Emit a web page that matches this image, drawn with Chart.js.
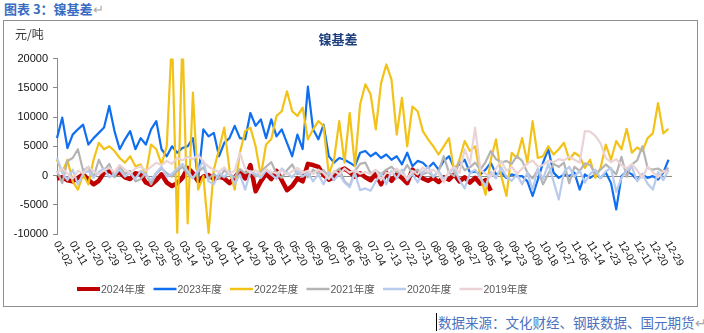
<!DOCTYPE html>
<html>
<head>
<meta charset="utf-8">
<script src="https://cdn.jsdelivr.net/npm/chart.js@4.4.1/dist/chart.umd.min.js"></script>
<style>
  body { margin: 0; width: 704px; height: 333px; position: relative; background: #fff; overflow: hidden;
         font-family: "Noto Sans CJK SC", sans-serif; }
  #cap { position: absolute; left: 4px; top: 0px; font-size: 13px; font-weight: bold; color: #3b6cc4; line-height: 18px; }
  #cap span { color: #aaa; font-weight: normal; }
  #box { position: absolute; left: 3px; top: 20px; width: 693px; height: 285px; border: 1px solid #8f8f8f; }
  #src { position: absolute; left: 436px; top: 313px; font-size: 13.5px; line-height: 18px; color: #4a72c0;
         border-left: 1px solid #000; padding-left: 1px; white-space: nowrap; }
</style>
</head>
<body>
<div id="cap">图表 3：镍基差<span>↵</span></div>
<div id="box"><canvas id="basisChart" width="693" height="285"></canvas></div>
<div id="src">数据来源：文化财经、钢联数据、国元期货<span style="color:#aaa">↵</span></div>
<script>
"use strict";

// calendar of the chart (leap year), holidays have no row
const FIRST_DAY = "2024-01-02";
const LAST_DAY = "2024-12-31";
const HOLIDAYS = ["04-04", "05-01", "05-02", "05-03",
  "10-01", "10-02", "10-03", "10-04", "10-05", "10-06", "10-07"];

const TICK_LABELS = ["01-02", "01-11", "01-20", "01-29", "02-07", "02-16", "02-25", "03-05", "03-14", "03-23",
  "04-01", "04-11", "04-20", "04-29", "05-11", "05-20", "05-29", "06-07", "06-16", "06-25",
  "07-04", "07-13", "07-22", "07-31", "08-09", "08-18", "08-27", "09-05", "09-14", "09-23",
  "10-09", "10-18", "10-27", "11-05", "11-14", "11-23", "12-02", "12-11", "12-20", "12-29"];

// one value every 3rd row of the calendar
const STEP = 3;

const S2024 = [-500, -300, -800, -1000, -400, 200, -700, -1500, -900, 500,
  800, 200, 500, -300, -600, 400, 200, -1200, -1600, -800,
  200, -1200, -1800, -1300, -400, 1300, 400, -1000, -200, 100,
  -600, -200, -500, -1300, -300, 700, -500, 1800, -2700, -1000,
  300, -600, 800, -800, -2500, -1800, -500, -1000, 2000, 1800,
  1500, 100, -700, -300, 800, 1200, 600, -200, 400, -300,
  -800, 300, -1500, 500, -900, 200, -400, -1300, 1000, 100,
  -500, -900, -400, -1100, -300, -700, 200, -1000, -300, -1200,
  -400, -1400, -800, -2600];

const S2023 = [6400, 9900, 4700, 7000, 7900, 8700, 5300, 6400, 7300, 8200,
  11900, 7600, 4500, 6200, 7600, 4500, 6400, 5300, 7900, 9300,
  4500, 3300, 5000, 3900, 4700, 5000, 6400, -700, 7900, 6700,
  7300, 3300, 5600, 6400, 8500, 6400, 6200, 10700, 8500, 9600,
  6400, 9600, 6700, 7900, 5600, 3300, 7000, 4500, 15200, 7900,
  6200, 8700, 3300, 2200, 3000, 2700, 2200, 1600, 3900,
  4200, 3300, 3900, 3000, 3600, 2700, 3300, 1900, 3900, 1600,
  2500, 2200, 1300, 2200, 1000, 2500, 3300, 1300, 1900, 2700,
  500, 700, 200, 1000, 2200, 200, 500, -400, 200, -100,
  -100, -1000, -3500, -700, 2200, 4500, 500, -400, 200, -100,
  500, -2400, 200, -400, 200, -400, 500, -1300, -5800, -100,
  700, 200, -700, 200, -400, -100, -700, 500, 2700];

const S2022 = [2700, 500, 2700, -1000, -2400, 200, -1500, 2700, 5600, 4500,
  5000, 4200, 3000, 2200, 3300, 1600, 1900, 200, 5300, 4500,
  1900, 5000, 24000, -9800, 24000, -8200, 14200, -2400, -100, -9800,
  1000, 4500, 8200, 1000, -2400, 3900, 7600, 8200, 5000, -100,
  5300, 6200, 10200, 11000, 14400, 11000, 10200, 11600, 6200, 7900,
  9300, 8500, 200, 2700, 9300, 2200, 10700, 1600, 12200,
  15600, 13900, 7900, 15800, 19000, 16400, 7000, 13300, 5000, 11800,
  11000, 7600, 6200, 5000, 3600, 5000, 6400, 500, 2700, 5900,
  4200, 5000, -100, -3300, 2700, 6200, -100, -3500, 3900, 3000,
  6400, 2200, 9300, 3000, 3300, 5000, 3600, 4500, 5600, 2700,
  3900, 3300, 1300, 2700, -400, 1300, 5300, 2700, 5900, 4500,
  8000, 3900, 4800, 4200, 6400, 7200, 12400, 7200, 8000];

const S2021 = [800, -1300, 2500, 3000, 4500, 800, 1500, -300, 2700, 800,
  2000, -300, 1600, 300, 800, -1000, -600, 400, -1500, 300,
  1200, 400, -200, 800, 1500, 300, -400, 600, 1400, -600,
  300, -500, 900, 200, -300, 1100, 400, 800, -200, 600,
  1500, 2300, 300, -400, 900, 1900, 200, 700, -300, 1000,
  300, 900, -200, 500, 1200, -1000, -1800, 800, 2000,
  2200, 400, 900, 200, 1000, 1500, 600, 300, 1800, 400,
  1000, 200, 600, -200, 700, 3300, 500, -100, 2400, 900,
  1400, 2200, 1000, 2300, 4200, 2800, 2200, 2500, 2000, 3300,
  2500, 500, -500, 1000, -1500, 300, 2000, 1500, 2200, -1300,
  1500, 800, 2100, 1800, 300, 1000, 1900, 1100, 200, 3200,
  -200, 1900, 2600, 5000, 1300, 1000, 1200, 600, 1300];

const S2020 = [3000, 500, -800, 1000, -1500, 300, 800, -400, 600, 1200,
  -300, 200, 1000, -200, 400, -600, 800, 100, -800, 500,
  1500, -200, 300, 1200, 2000, 800, -500, 1000, 2500, -1000,
  -1500, 400, -300, 800, -1500, 200, -2400, 600, 300, -400,
  900, 200, -600, 1200, 400, -300, 800, -200, 500, -1000,
  200, -1500, 600, -800, 300, -1200, -2000, 400, -2500,
  -2200, -2600, -1000, 400, -1500, 800, -500, 1000, -800, 300,
  -1200, 600, 1500, -300, 800, -600, 500, 1200, -800, -2200,
  400, 1000, -400, -1800, 600, -500, 1400, -200, -900, 200,
  -1500, 500, -2500, 1200, -600, 2000, -1000, -4100, 600, 1500,
  -200, 800, -1200, 300, 1000, -500, 700, 1300, -2800, -400,
  900, 1500, -1000, 300, -1400, -2400, 600, -800, 1000];

const S2019 = [500, 1200, 300, -500, 800, 400, 1500, 700, 200, 900,
  1300, 600, 1800, 1000, 400, 1200, 1600, 800, 1500, 2200,
  1800, 2500, 2000, 3000, 2600, 3200, 2800, 3500, 2400, 1500,
  1000, 600, 1400, 300, 800, 3900, 1200, 500, 900, 200,
  1100, 600, 400, 900, 200, 700, 1300, 500, 800, 300,
  1000, 400, -600, 800, 200, 1200, 500, 900, 300,
  600, 200, 1000, -800, 500, 300, 1200, 400, -500, 800,
  200, 1400, 600, 1000, 300, -1200, 700, 1500, 400, 4500,
  2000, 8200, 1000, 300, -200, 1200, 2500, 800, 1500, 300,
  1200, 2000, 2600, 1500, 1800, 2500, 2300, 2800, 2600, 3200,
  2700, 2200, 7600, 7500, 6800, 5500, 3000, 2300, 2800, 1800,
  1200, 2000, 900, -400, 1500, 600, -300, 800, 500];

const SERIES_NAMES = ["2024年度", "2023年度", "2022年度", "2021年度", "2020年度", "2019年度"];
const SERIES_COLORS = ["#c00000", "#0f6ff0", "#f2c218", "#b4b4b4", "#b8cbec", "#ead3d5"];
const SERIES_WIDTHS = [4.5, 2.2, 2.2, 2.2, 2.2, 2.2];

function buildCategories() {
  const out = [];
  const d = new Date(FIRST_DAY + "T00:00:00Z");
  const end = new Date(LAST_DAY + "T00:00:00Z");
  while (d <= end) {
    const s = String(d.getUTCMonth() + 1).padStart(2, "0") + "-" + String(d.getUTCDate()).padStart(2, "0");
    if (!HOLIDAYS.includes(s)) out.push(s);
    d.setUTCDate(d.getUTCDate() + 1);
  }
  return out;
}

const CATEGORIES = buildCategories();

function toPoints(values) {
  return values.map((v, k) => ({ x: CATEGORIES[k * STEP], y: v }));
}

const extras = {
  id: "extras",
  beforeDatasetsDraw(chart) {
    const { ctx, chartArea } = chart;
    const y0 = chart.scales.y.getPixelForValue(0);
    ctx.save();
    ctx.strokeStyle = "#8a8a8a";
    ctx.lineWidth = 1;
    ctx.beginPath();
    ctx.moveTo(chartArea.left, Math.round(y0) + 0.5);
    ctx.lineTo(chartArea.right, Math.round(y0) + 0.5);
    ctx.stroke();
    ctx.restore();
  },
  afterDraw(chart) {
    const { ctx, chartArea } = chart;
    const xs = chart.scales.x;
    ctx.save();

    // unit
    ctx.fillStyle = "#333";
    ctx.font = '12px "Noto Sans CJK SC"';
    ctx.textBaseline = "middle";
    ctx.textAlign = "left";
    ctx.fillText("元/吨", 11, 13);

    // slanted date labels
    ctx.font = '10.5px "Liberation Sans", Arial';
    ctx.fillStyle = "#111";
    TICK_LABELS.forEach(lbl => {
      const idx = CATEGORIES.indexOf(lbl);
      if (idx < 0) return;
      const x = xs.getPixelForValue(idx);
      ctx.save();
      ctx.translate(x - 1, chartArea.bottom + 8);
      ctx.rotate(Math.PI / 3);
      ctx.fillText(lbl, 0, 0);
      ctx.restore();
    });

    // legend
    ctx.font = '10.5px "Liberation Sans", "Noto Sans CJK SC"';
    ctx.fillStyle = "#595959";
    const ly = 268;
    chart.data.datasets.forEach((ds, i) => {
      const lx = 73 + i * 76.5;
      ctx.strokeStyle = ds.borderColor;
      ctx.lineWidth = i === 0 ? 4 : 2.5;
      ctx.beginPath();
      ctx.moveTo(lx, ly);
      ctx.lineTo(lx + 23, ly);
      ctx.stroke();
      ctx.fillText(ds.label, lx + 24, ly + 1);
    });
    ctx.restore();
  }
};

document.addEventListener("DOMContentLoaded", function () {
  const allSeries = [S2024, S2023, S2022, S2021, S2020, S2019];
  const datasets = allSeries.map((vals, i) => ({
    label: SERIES_NAMES[i],
    data: toPoints(vals),
    borderColor: SERIES_COLORS[i],
    backgroundColor: SERIES_COLORS[i],
    borderWidth: SERIES_WIDTHS[i],
    pointRadius: 0,
    tension: 0,
    borderJoinStyle: "round",
    order: allSeries.length - 1 - i
  }));

  new Chart(document.getElementById("basisChart"), {
    type: "line",
    data: { labels: CATEGORIES, datasets: datasets },
    options: {
      responsive: false,
      animation: false,
      layout: { padding: { left: 0, right: 25, top: 0, bottom: 0 } },
      plugins: {
        legend: { display: false },
        tooltip: { enabled: false },
        title: {
          display: true,
          text: "镍基差",
          color: "#1f3f7f",
          font: { family: "Noto Sans CJK SC", size: 13, weight: "bold" },
          padding: { top: 10, bottom: 12 }
        }
      },
      scales: {
        x: {
          type: "category",
          offset: false,
          grid: { display: false },
          border: { display: false },
          ticks: { display: false },
          afterFit(scale) { scale.height = 72; }
        },
        y: {
          min: -10000,
          max: 20000,
          grid: { drawOnChartArea: false, drawTicks: true, tickLength: 4, color: "#8a8a8a" },
          border: { display: true, color: "#8a8a8a" },
          ticks: {
            stepSize: 5000,
            padding: 5,
            color: "#111",
            font: { family: "Liberation Sans", size: 11 },
            callback: v => String(v)
          },
          afterFit(scale) { scale.width = 53; }
        }
      }
    },
    plugins: [extras]
  });
});
</script>
</body>
</html>
